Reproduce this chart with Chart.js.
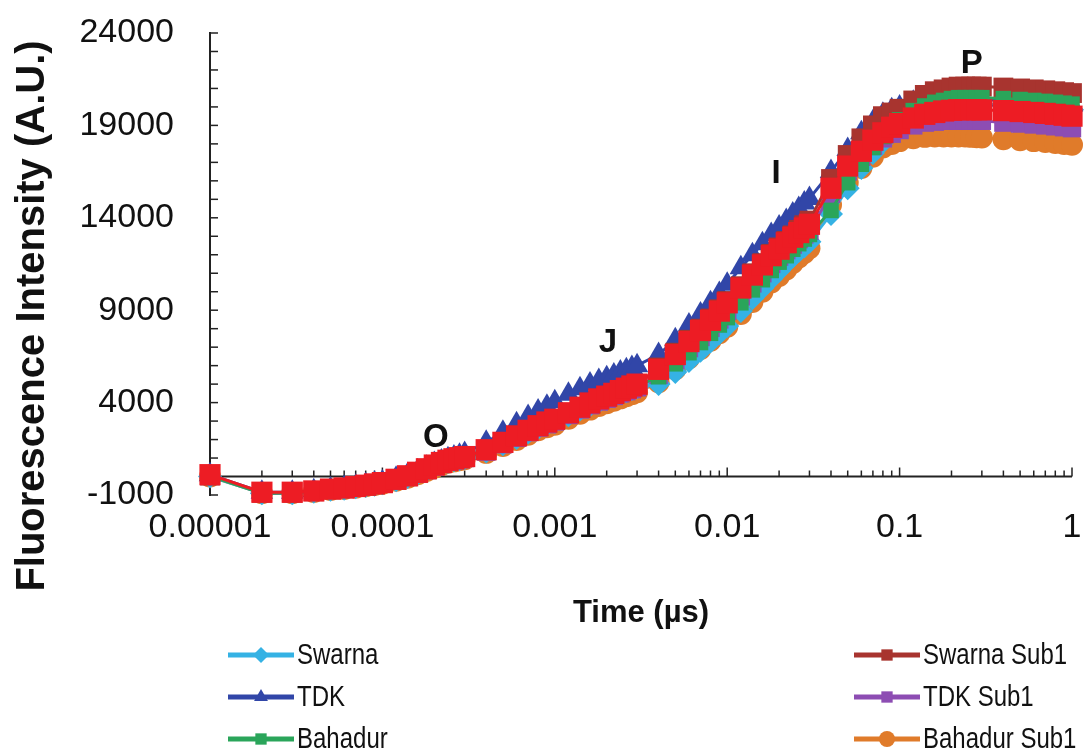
<!DOCTYPE html>
<html>
<head>
<meta charset="utf-8">
<script src="https://cdn.jsdelivr.net/npm/chart.js@4.4.1/dist/chart.umd.min.js"></script>
<style>
  html, body { margin: 0; padding: 0; background: #fff; }
</style>
</head>
<body>
<canvas id="ojipChart" width="1087" height="755"></canvas>
<script>
// sampling times (s), same for every trace: dense at the end of each block, sparse after it
const timePoints = [
  0.00001, 0.00002, 0.00003, 0.00004, 0.00005, 0.00006, 0.00007, 0.00008, 0.00009, 0.0001,
  0.00012, 0.00014, 0.00016, 0.00018, 0.0002, 0.00022, 0.00024, 0.00026, 0.00028, 0.0003,
  0.0004, 0.0005, 0.0006, 0.0007, 0.0008, 0.0009, 0.001, 0.0012, 0.0014, 0.0016,
  0.0018, 0.002, 0.0022, 0.0024, 0.0026, 0.0028, 0.003,
  0.004, 0.005, 0.006, 0.007, 0.008, 0.009, 0.01, 0.012, 0.014, 0.016,
  0.018, 0.02, 0.022, 0.024, 0.026, 0.028, 0.03,
  0.04, 0.05, 0.06, 0.07, 0.08, 0.09, 0.1, 0.12, 0.14, 0.16,
  0.18, 0.2, 0.22, 0.24, 0.26, 0.28, 0.3,
  0.4, 0.5, 0.6, 0.7, 0.8, 0.9, 1
];

const swarna = [
  0, -900, -900, -820, -720, -660, -580, -510, -440, -370,
  -200, -20, 160, 350, 540, 680, 800, 880, 940, 1000,
  1350, 1750, 2080, 2380, 2630, 2820, 2970, 3320, 3620, 3850,
  4050, 4200, 4350, 4500, 4620, 4730, 4830,
  5000, 5650, 6250, 6800, 7300, 7750, 8150, 8950, 9650, 10200,
  10700, 11150, 11550, 11900, 12200, 12450, 12700,
  14200, 15600, 16700, 17500, 18100, 18600, 19000, 19500, 19750, 19950,
  20050, 20100, 20150, 20150, 20150, 20150, 20150,
  20100, 20050, 20000, 19950, 19900, 19900, 19850
];
const tdk = [
  100, -850, -850, -770, -670, -600, -520, -450, -370, -290,
  -100, 100, 300, 500, 700, 840, 960, 1060, 1150, 1250,
  1850, 2400, 2850, 3250, 3550, 3800, 4050, 4450, 4750, 5000,
  5200, 5350, 5500, 5650, 5780, 5900, 6000,
  6600, 7400, 8200, 8800, 9400, 9900, 10400, 11300, 12000, 12600,
  13100, 13500, 13850, 14200, 14500, 14800, 15050,
  16500, 17700, 18600, 19200, 19600, 19850, 20000, 20250, 20350, 20400,
  20400, 20400, 20400, 20400, 20400, 20400, 20400,
  20350, 20300, 20250, 20200, 20150, 20100, 20100
];
const bahadur = [
  30, -900, -880, -810, -710, -650, -570, -500, -430, -360,
  -190, 0, 180, 370, 560, 700, 820, 900, 960, 1020,
  1380, 1780, 2120, 2420, 2670, 2870, 3020, 3370, 3670, 3900,
  4100, 4250, 4400, 4550, 4680, 4800, 4900,
  5400, 6100, 6700, 7250, 7750, 8200, 8600, 9400, 10100, 10650,
  11150, 11600, 11950, 12300, 12600, 12850, 13100,
  14400, 15900, 16900, 17800, 18400, 18900, 19300, 19800, 20050, 20250,
  20350, 20450, 20500, 20500, 20500, 20500, 20500,
  20450, 20400, 20350, 20300, 20250, 20200, 20150
];
const swarnaSub1 = [
  50, -880, -880, -800, -700, -640, -560, -490, -420, -350,
  -180, 10, 200, 390, 590, 730, 850, 930, 990, 1050,
  1420, 1820, 2170, 2470, 2720, 2920, 3070, 3420, 3720, 3950,
  4170, 4320, 4470, 4620, 4750, 4870, 4970,
  5900, 6700, 7400, 8000, 8550, 9050, 9500, 10300, 11000, 11550,
  12050, 12400, 12750, 13050, 13350, 13600, 13850,
  16100, 17400, 18300, 19000, 19500, 19700, 19900, 20350, 20650, 20850,
  20950, 21050, 21100, 21100, 21100, 21100, 21100,
  21050, 21000, 20950, 20900, 20850, 20800, 20750
];
const tdkSub1 = [
  50, -880, -880, -800, -710, -650, -570, -500, -430, -360,
  -200, -20, 170, 350, 540, 680, 800, 880, 940, 1000,
  1350, 1750, 2100, 2400, 2650, 2830, 2980, 3330, 3630, 3860,
  4060, 4210, 4360, 4500, 4620, 4730, 4830,
  5500, 6300, 6950, 7550, 8050, 8500, 8950, 9750, 10450, 11000,
  11500, 11900, 12250, 12550, 12850, 13100, 13300,
  15300, 16500, 17300, 17900, 18300, 18550, 18750, 19000, 19150, 19200,
  19250, 19250, 19250, 19250, 19250, 19250, 19250,
  19150, 19100, 19050, 19000, 18950, 18900, 18850
];
const bahadurSub1 = [
  0, -900, -900, -830, -730, -670, -600, -530, -460, -390,
  -230, -60, 120, 300, 480, 620, 740, 820, 880, 930,
  1280, 1650, 1980, 2260, 2500, 2670, 2800, 3130, 3400, 3620,
  3820, 3960, 4100, 4230, 4350, 4460, 4560,
  5100, 5800, 6400, 6900, 7350, 7750, 8100, 8800, 9450, 10000,
  10500, 10850, 11200, 11550, 11850, 12100, 12350,
  14700, 15900, 16700, 17300, 17800, 18000, 18150, 18300, 18380, 18400,
  18400, 18400, 18400, 18400, 18380, 18360, 18350,
  18250, 18200, 18150, 18100, 18050, 18000, 17950
];
// bright red trace drawn over the others; it has no legend entry
const unlabelledRed = [
  100, -850, -850, -780, -680, -620, -540, -470, -400, -330,
  -150, 40, 230, 420, 620, 760, 880, 960, 1020, 1080,
  1450, 1850, 2200, 2500, 2750, 2950, 3100, 3450, 3750, 3980,
  4200, 4350, 4500, 4650, 4780, 4900, 5000,
  5800, 6600, 7300, 7900, 8450, 8950, 9400, 10200, 10900, 11450,
  11950, 12300, 12650, 12950, 13200, 13450, 13650,
  15600, 16800, 17600, 18200, 18600, 18900, 19100, 19400, 19600, 19700,
  19780, 19820, 19850, 19850, 19850, 19850, 19840,
  19800, 19750, 19700, 19650, 19600, 19550, 19500
];

const xTickLabels = ["0.00001", "0.0001", "0.001", "0.01", "0.1", "1"];
const yTickLabels = ["-1000", "4000", "9000", "14000", "19000", "24000"];

// O, J, I, P phase letters
const phaseNames = ["O", "J", "I", "P"];
const phaseTimes = [0.000204, 0.00203, 0.0192, 0.262];
const phaseLevels = [2080, 7250, 16350, 22350];

const xAxisTitle = "Time (\u00b5s)";
const yAxisTitle = "Fluorescence Intensity (A.U.)";

function toPoints(values) {
  return values.map((v, i) => ({ x: timePoints[i], y: v }));
}

function series(label, values, color, pointStyle, radius, order) {
  return {
    label: label,
    data: toPoints(values),
    borderColor: color,
    backgroundColor: color,
    borderWidth: 3,
    pointStyle: pointStyle,
    pointRadius: radius,
    pointHoverRadius: radius,
    pointBorderWidth: 0,
    tension: 0,
    clip: false,
    order: order,
  };
}

const datasets = [
  series("Swarna", swarna, "#35b2e4", "rectRot", 12, 5),
  series("TDK", tdk, "#3146a8", "triangle", 13, 4),
  series("Bahadur", bahadur, "#2aa55a", "rect", 11, 1),
  series("Swarna Sub1", swarnaSub1, "#a8342f", "rect", 14, 3),
  series("TDK Sub1", tdkSub1, "#8d4db3", "rect", 13, 2),
  series("Bahadur Sub1", bahadurSub1, "#e07b2a", "circle", 11, 6),
  series("", unlabelledRed, "#ed1c24", "rect", 15, 0),
];

const baseFont = '"Liberation Sans", Arial, sans-serif';

// x axis line crossing at y = 0, tick marks pointing into the plot
const axisMarks = {
  id: "axisMarks",
  beforeDatasetsDraw(chart) {
    const { ctx, scales: { x, y } } = chart;
    const y0 = y.getPixelForValue(0);
    ctx.save();
    ctx.strokeStyle = "#222";
    ctx.lineWidth = 2;
    ctx.beginPath();
    ctx.moveTo(x.left, y0);
    ctx.lineTo(x.right, y0);
    ctx.stroke();
    ctx.lineWidth = 1.5;
    x.ticks.forEach((t) => {
      const exp = Math.floor(Math.log10(t.value) + 1e-9);
      const sig = t.value / Math.pow(10, exp);
      if (Math.abs(sig - Math.round(sig)) > 1e-6) return;
      const px = x.getPixelForValue(t.value);
      const len = Math.round(sig) === 1 || Math.round(sig) === 10 ? 9 : 6;
      ctx.beginPath();
      ctx.moveTo(px, y0);
      ctx.lineTo(px, y0 - len);
      ctx.stroke();
    });
    y.ticks.forEach((t) => {
      const py = y.getPixelForValue(t.value);
      ctx.beginPath();
      ctx.moveTo(x.left, py);
      ctx.lineTo(x.left + 8, py);
      ctx.stroke();
    });
    ctx.restore();
  },
};

const phaseLabels = {
  id: "phaseLabels",
  afterDatasetsDraw(chart) {
    const { ctx, scales: { x, y } } = chart;
    ctx.save();
    ctx.font = "bold 33px " + baseFont;
    ctx.fillStyle = "#111";
    ctx.textAlign = "center";
    ctx.textBaseline = "middle";
    phaseNames.forEach((name, i) => {
      ctx.fillText(name, x.getPixelForValue(phaseTimes[i]), y.getPixelForValue(phaseLevels[i]));
    });
    ctx.restore();
  },
};

const yTitle = {
  id: "yTitle",
  afterDraw(chart) {
    const { ctx } = chart;
    ctx.save();
    ctx.translate(33, 316);
    ctx.rotate(-Math.PI / 2);
    ctx.font = "bold 40px " + baseFont;
    ctx.fillStyle = "#111";
    ctx.textAlign = "center";
    ctx.textBaseline = "middle";
    ctx.fillText(yAxisTitle, 0, 0);
    ctx.restore();
  },
};

// two-column legend below the x title, condensed text like the original
const legendColumnX = [228, 854];
const legendRowY = [655, 697, 739];
const legendSqueeze = 0.8;

const bottomLegend = {
  id: "bottomLegend",
  afterDraw(chart) {
    const { ctx } = chart;
    const items = chart.data.datasets.filter((d) => d.label);
    items.forEach((ds, i) => {
      const col = Math.floor(i / 3);
      const row = i % 3;
      const x0 = legendColumnX[col];
      const yc = legendRowY[row];
      ctx.save();
      ctx.strokeStyle = ds.borderColor;
      ctx.lineWidth = 5;
      ctx.beginPath();
      ctx.moveTo(x0, yc);
      ctx.lineTo(x0 + 66, yc);
      ctx.stroke();
      ctx.fillStyle = ds.backgroundColor;
      Chart.helpers.drawPoint(ctx, { pointStyle: ds.pointStyle, radius: 8, rotation: 0, borderWidth: 0 }, x0 + 33, yc);
      ctx.translate(x0 + 69, yc + 1);
      ctx.scale(legendSqueeze, 1);
      ctx.fillStyle = "#111";
      ctx.font = "30px " + baseFont;
      ctx.textAlign = "left";
      ctx.textBaseline = "middle";
      ctx.fillText(ds.label, 0, 0);
      ctx.restore();
    });
  },
};

const ctx = document.getElementById("ojipChart").getContext("2d");

new Chart(ctx, {
  type: "line",
  data: { datasets: datasets },
  plugins: [axisMarks, phaseLabels, yTitle, bottomLegend],
  options: {
    responsive: false,
    animation: false,
    events: [],
    layout: { padding: { top: 33, right: 0, left: 0, bottom: 0 } },
    plugins: {
      legend: { display: false },
      tooltip: { enabled: false },
    },
    scales: {
      x: {
        type: "logarithmic",
        min: 0.00001,
        max: 1,
        afterFit: (scale) => {
          scale.height = 260;
          scale.paddingLeft = 0;
          scale.paddingRight = 10;
        },
        grid: { display: false, drawTicks: false },
        border: { display: false },
        ticks: {
          autoSkip: false,
          maxRotation: 0,
          padding: 12,
          color: "#111",
          font: { family: baseFont, size: 34 },
          callback: function (value) {
            const exp = Math.log10(value);
            if (Math.abs(exp - Math.round(exp)) > 1e-6) return "";
            return xTickLabels[Math.round(exp) + 5];
          },
        },
        title: {
          display: true,
          text: xAxisTitle,
          color: "#111",
          font: { family: baseFont, size: 31, weight: "bold" },
          padding: { top: 0, bottom: 123 },
        },
      },
      y: {
        min: -1000,
        max: 24000,
        afterFit: (scale) => {
          scale.width = 210;
          scale.paddingTop = 0;
          scale.paddingBottom = 0;
        },
        grid: { display: false, drawTicks: false },
        border: { display: true, color: "#222", width: 2 },
        ticks: {
          stepSize: 1000,
          autoSkip: false,
          padding: 36,
          color: "#111",
          font: { family: baseFont, size: 34 },
          callback: function (value) {
            const i = yTickLabels.indexOf(String(value));
            return i >= 0 ? yTickLabels[i] : "";
          },
        },
      },
    },
  },
});
</script>
</body>
</html>
